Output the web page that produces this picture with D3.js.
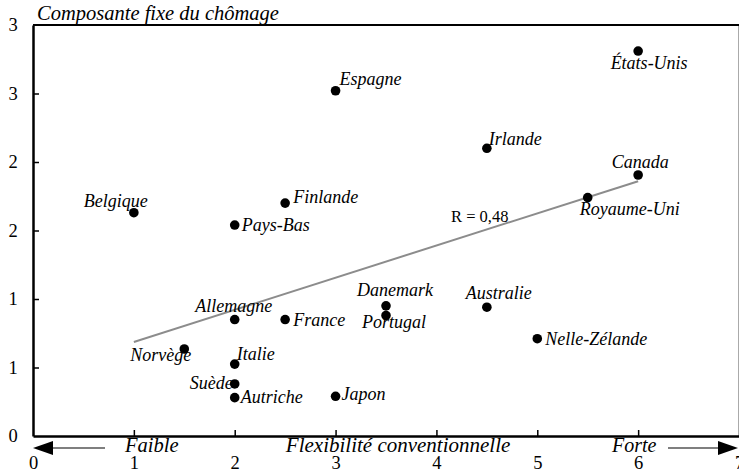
<!DOCTYPE html>
<html>
<head>
<meta charset="utf-8">
<script src="https://cdn.jsdelivr.net/npm/d3@7"></script>
<style>
    body { margin: 0; background: #fff; }
    svg text { font-family: "Liberation Serif", "DejaVu Serif", "Times New Roman", serif; }
</style>
</head>
<body>
<div id="chart"></div>
<script>
// data
const countries = ['États-Unis', 'Espagne', 'Irlande', 'Canada', 'Royaume-Uni', 'Belgique', 'Finlande',
    'Pays-Bas', 'Allemagne', 'France', 'Danemark', 'Portugal', 'Australie', 'Nelle-Zélande',
    'Norvège', 'Italie', 'Suède', 'Autriche', 'Japon'];
const flexValues = [6, 3, 4.5, 6, 5.5, 1, 2.5, 2, 2, 2.5, 3.5, 3.5, 4.5, 5, 1.5, 2, 2, 2, 3];
const fixedValues = [2.81, 2.52, 2.10, 1.905, 1.74, 1.63, 1.70, 1.54, 0.85, 0.85, 0.95, 0.88, 0.94, 0.71,
    0.635, 0.525, 0.38, 0.28, 0.29];
const trendX = [1, 6];
const trendY = [0.686, 1.86];
const xTicks = [0, 1, 2, 3, 4, 5, 6, 7];
const yTicks = [0, 0.5, 1, 1.5, 2, 2.5, 3];
const yTickLabels = ['0', '1', '1', '2', '2', '3', '3'];

// label placement (dx, dy from the dot, anchor)
const labelPos = {
    'États-Unis': [11, 18, 'middle'],
    'Espagne': [4, -6, 'start'],
    'Irlande': [2, -3, 'start'],
    'Canada': [2, -7, 'middle'],
    'Royaume-Uni': [-8, 17, 'start'],
    'Belgique': [-18, -6, 'middle'],
    'Finlande': [8, 0, 'start'],
    'Pays-Bas': [7, 6, 'start'],
    'Allemagne': [-1, -8, 'middle'],
    'France': [8, 6, 'start'],
    'Danemark': [9, -10, 'middle'],
    'Portugal': [8, 13, 'middle'],
    'Australie': [12, -8, 'middle'],
    'Nelle-Zélande': [8, 6, 'start'],
    'Norvège': [7, 12, 'end'],
    'Italie': [2, -4, 'start'],
    'Suède': [-2, 5, 'end'],
    'Autriche': [6, 5, 'start'],
    'Japon': [6, 4, 'start']
};

const serif = '"Liberation Serif", "DejaVu Serif", serif';
const width = 739;
const height = 474;
const margin = { left: 33, right: 0, top: 25, bottom: 38 };

const x = d3.scaleLinear().domain([0, 7]).range([margin.left, width - margin.right]);
const y = d3.scaleLinear().domain([0, 3]).range([height - margin.bottom, margin.top]);

const svg = d3.select('#chart')
    .append('svg')
    .attr('width', width)
    .attr('height', height)
    .style('display', 'block');

// frame: thin grey right side, black top
svg.append('line')
    .attr('x1', x(7) - 0.5).attr('x2', x(7) - 0.5)
    .attr('y1', y(3)).attr('y2', y(0))
    .attr('stroke', '#aaa').attr('stroke-width', 1);
svg.append('line')
    .attr('x1', x(0)).attr('x2', x(7))
    .attr('y1', y(3)).attr('y2', y(3))
    .attr('stroke', '#000').attr('stroke-width', 2);

// axes
const xAxis = svg.append('g')
    .attr('transform', `translate(0,${y(0)})`)
    .call(d3.axisBottom(x).tickValues(xTicks).tickFormat(d3.format('d'))
        .tickSizeInner(-6).tickSizeOuter(0).tickPadding(20));
const yAxis = svg.append('g')
    .attr('transform', `translate(${x(0)},0)`)
    .call(d3.axisLeft(y).tickValues(yTicks).tickFormat((d, i) => yTickLabels[i])
        .tickSizeInner(-6).tickSizeOuter(0).tickPadding(15));

[xAxis, yAxis].forEach(ax => {
    ax.attr('font-family', null);
    ax.select('.domain').attr('stroke', '#000').attr('stroke-width', 2.5);
    ax.selectAll('.tick line').attr('stroke', '#000').attr('stroke-width', 1.5);
    ax.selectAll('.tick text')
        .style('font-family', serif)
        .attr('font-size', 18.5)
        .attr('fill', '#000');
});
xAxis.selectAll('.tick').filter(d => d === 0 || d === 7).select('line').remove();
yAxis.selectAll('.tick').filter(d => d === 0 || d === 3).select('line').remove();
yAxis.selectAll('.tick text').attr('text-anchor', 'middle').attr('x', -20);

function label(xx, yy, txt, size, italic, anchor) {
    return svg.append('text')
        .attr('x', xx).attr('y', yy)
        .attr('text-anchor', anchor || 'start')
        .style('font-family', serif)
        .attr('font-size', size)
        .attr('font-style', italic ? 'italic' : 'normal')
        .text(txt);
}

// titles
label(37, 20, 'Composante fixe du chômage', 20.5, true);
label(x(3.62), 452, 'Flexibilité conventionnelle', 21, true, 'middle');
label(125, 452, 'Faible', 20.5, true);
label(612, 452, 'Forte', 20, true);

// direction arrows
function arrow(x1, x2, yy) {
    const dir = Math.sign(x2 - x1);
    svg.append('line')
        .attr('x1', x1).attr('x2', x2 - dir * 18)
        .attr('y1', yy).attr('y2', yy)
        .attr('stroke', '#555').attr('stroke-width', 1.5);
    svg.append('path')
        .attr('d', `M${x2},${yy}L${x2 - dir * 20},${yy - 7}L${x2 - dir * 20},${yy + 7}Z`)
        .attr('fill', '#000');
}
arrow(105, 33, 448);
arrow(668, 738, 448);

// trend line
svg.append('line')
    .attr('x1', x(trendX[0])).attr('y1', y(trendY[0]))
    .attr('x2', x(trendX[1])).attr('y2', y(trendY[1]))
    .attr('stroke', '#8c8c8c').attr('stroke-width', 2);
label(451, 222, 'R = 0,48', 16.5, false);

// points
const points = countries.map((c, i) => ({ name: c, fx: flexValues[i], fy: fixedValues[i] }));

svg.append('g').selectAll('circle')
    .data(points)
    .enter()
    .append('circle')
    .attr('cx', d => x(d.fx))
    .attr('cy', d => y(d.fy))
    .attr('r', 4.8)
    .attr('fill', '#000');

points.forEach(d => {
    const p = labelPos[d.name];
    label(x(d.fx) + p[0], y(d.fy) + p[1], d.name, 18, true, p[2]);
});
</script>
</body>
</html>
